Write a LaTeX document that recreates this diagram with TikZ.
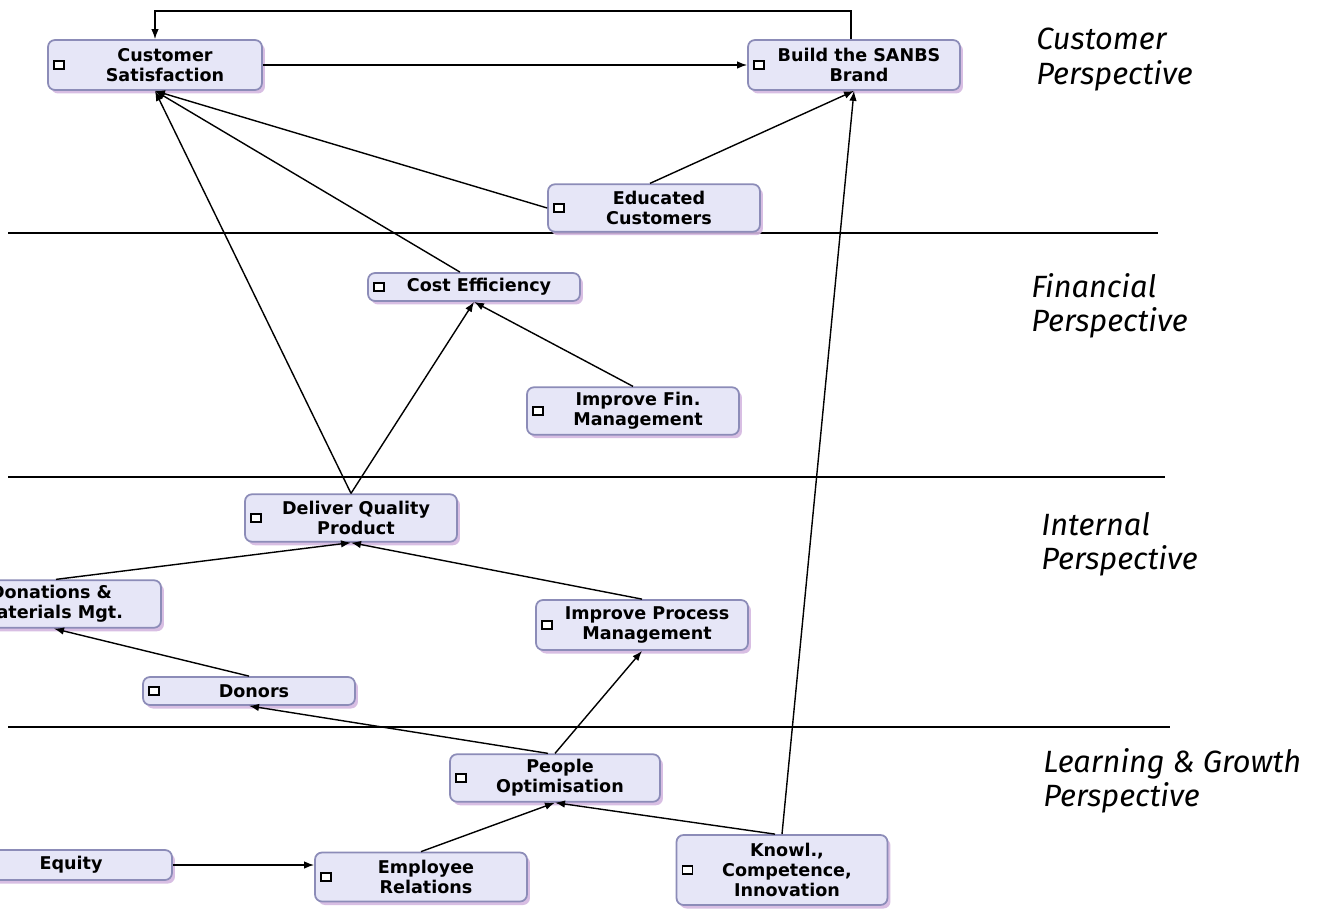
\documentclass[tikz,border=0pt]{standalone}
\usepackage{fontspec}
\setmainfont{DejaVu Sans}
\newfontfamily\persfont{Fira Sans}
\usetikzlibrary{arrows.meta,shadows}
\definecolor{boxfill}{HTML}{E6E6F7}
\definecolor{boxedge}{HTML}{8C8CB8}
\definecolor{boxglow}{HTML}{D4B8E0}
\tikzset{
  goal/.style={draw=boxedge, line width=1pt, fill=boxfill,
    rounded corners=0.14cm, minimum width=4.24cm, minimum height=0.95cm,
    inner sep=0pt,
    drop shadow={shadow xshift=0.06cm, shadow yshift=-0.07cm, fill=boxglow, opacity=0.9},
    path picture={\draw[sharp corners, draw=black, line width=1.1pt, fill=white]
      ([xshift=0.12cm, yshift=-0.08cm]path picture bounding box.west)
      rectangle ++(0.2cm,0.16cm);}},
  ttl/.style={align=center, inner sep=0pt, xshift=0.1cm,
    font=\bfseries\fontsize{10}{11.5}\selectfont},
  pers/.style={anchor=north west, align=left, inner sep=0pt,
    font=\persfont\itshape\fontsize{17.5}{19.5}\selectfont},
  arr/.style={-{Latex[length=0.2cm,width=0.15cm]}, line width=0.8pt},
  sep/.style={line width=0.8pt}
}
\begin{document}
\begin{tikzpicture}[x=0.02cm, y=-0.02cm]
\fill[white] (0,0) rectangle (1318,909);
\useasboundingbox (0,0) rectangle (1318,909);
\clip (0,0) rectangle (1318,909);

% perspective separators
\draw[sep] (8,233) -- (1158,233);
\draw[sep] (8,477) -- (1165,477);
\draw[sep] (8,727) -- (1170,727);

% perspective titles
\node[pers] (pc) at (1036,28) {Customer\\Perspective};
\node[pers] (pf) at (1031,273) {Financial\\Perspective};
\node[pers] (pi) at (1041,512) {Internal\\Perspective};
\node[pers] (pl) at (1043,748) {Learning \& Growth\\Perspective};

% objectives
\node[goal, minimum width=4.28cm, minimum height=1.0cm] (cs) at (155,65) {};
  \node[ttl, xshift=0.1cm] (cst) at (cs.center) {Customer\\Satisfaction};
\node[goal, minimum height=1.0cm] (build) at (854,65) {};
  \node[ttl] (buildt) at (build.center) {Build the SANBS\\Brand};
\node[goal] (ec) at (654,208) {};
  \node[ttl] (ect) at (ec.center) {Educated\\Customers};
\node[goal, minimum height=0.56cm] (ce) at (474,287) {};
  \node[ttl] (cet) at (ce.center) {Cost Efficiency};
\node[goal] (ifm) at (633,411) {};
  \node[ttl] (ifmt) at (ifm.center) {Improve Fin.\\Management};
\node[goal] (dq) at (351,518) {};
  \node[ttl] (dqt) at (dq.center) {Deliver Quality\\Product};
\node[goal, minimum width=4.6cm] (dm) at (46,604) {};
  \node[ttl] (dmt) at (dm.center) {Donations \&\\Materials Mgt.};
\node[goal, minimum height=1.0cm] (ipm) at (642,625) {};
  \node[ttl] (ipmt) at (ipm.center) {Improve Process\\Management};
\node[goal, minimum height=0.56cm] (donors) at (249,691) {};
  \node[ttl] (donorst) at (donors.center) {Donors};
\node[goal, minimum width=4.2cm] (po) at (555,778) {};
  \node[ttl] (pot) at (po.center) {People\\Optimisation};
\node[goal, minimum height=0.6cm] (eq) at (66,865) {};
  \node[ttl] (eqt) at (eq.center) {Equity};
\node[goal, minimum height=0.98cm] (er) at (421,877) {};
  \node[ttl] (ert) at (er.center) {Employee\\Relations};
\node[goal, minimum width=4.22cm, minimum height=1.4cm] (kci) at (782,870) {};
  \node[ttl] (kcit) at (kci.center) {Knowl.,\\Competence,\\Innovation};

% cause-and-effect links
\draw[arr] (cs.east) -- (build.west);
\draw[arr] ([xshift=-0.06cm]build.north) -- ++(0,-28) -| (cs.north);
\draw[arr] (ec.west) -- (cs.south);
\draw[arr] ([xshift=-0.08cm]ec.north) -- (build.south);
\draw[arr] ([xshift=-0.28cm]ce.north) -- (cs.south);
\draw[arr] (dq.north) -- (cs.south);
\draw[arr] (dq.north) -- (ce.south);
\draw[arr] (ifm.north) -- (ce.south);
\draw[arr] ([xshift=0.2cm]dm.north) -- (dq.south);
\draw[arr] (ipm.north) -- (dq.south);
\draw[arr] (donors.north) -- ([xshift=0.16cm]dm.south);
\draw[arr] ([xshift=-0.14cm]po.north) -- (donors.south);
\draw[arr] (po.north) -- (ipm.south);
\draw[arr] (er.north) -- (po.south);
\draw[arr] ([xshift=-0.14cm]kci.north) -- (po.south);
\draw[arr] (kci.north) -- (build.south);
\draw[arr] (eq.east) -- (eq.east -| er.west);
\end{tikzpicture}
\end{document}
